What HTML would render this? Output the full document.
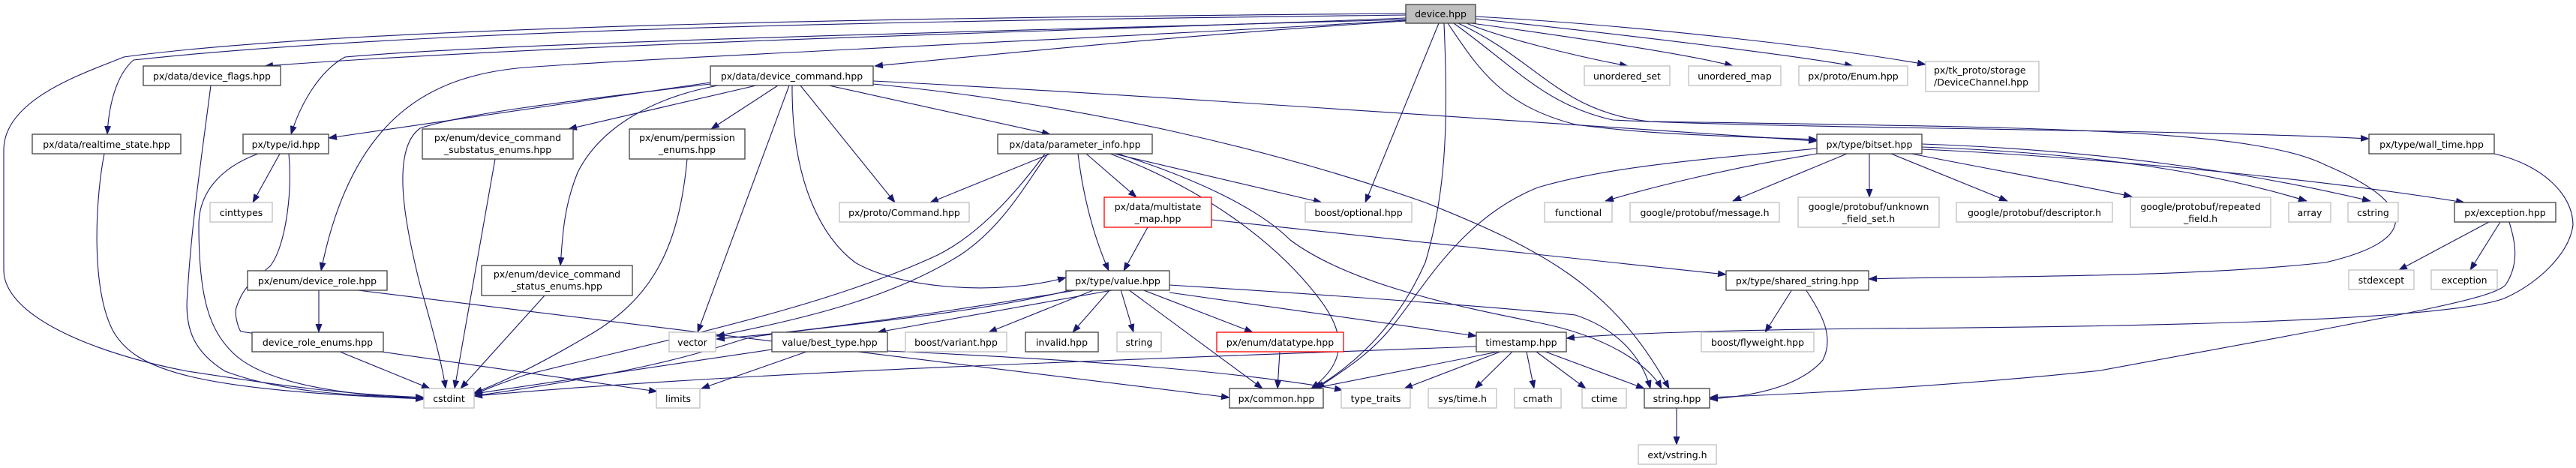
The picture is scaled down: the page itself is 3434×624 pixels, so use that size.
<!DOCTYPE html>
<html><head><meta charset="utf-8"><style>
html,body{margin:0;padding:0;background:#fff;}
svg{display:block;}
text{font-family:"DejaVu Sans","Liberation Sans",sans-serif;font-size:12.5px;fill:#000;}
.e{fill:none;stroke:#191970;stroke-width:1.1;marker-end:url(#a);}
.b{fill:#fff;stroke:#404040;stroke-width:1.3;}
.g{fill:#fff;stroke:#bfbfbf;stroke-width:1.3;}
.r{fill:#fff;stroke:#ff0000;stroke-width:1.3;}
</style></head><body>
<svg width="3434" height="624" viewBox="0 0 3434 624" xmlns="http://www.w3.org/2000/svg">
<defs><marker id="a" markerWidth="12" markerHeight="9" refX="11" refY="4.5" orient="auto" markerUnits="userSpaceOnUse"><path d="M0,0 L12,4.5 L0,9 Z" fill="#191970"/></marker></defs>

<!-- edges from device.hpp -->
<path class="e" d="M1874,18 C1400,22 500,30 165,76 C120,95 5,130 5,200 L5,360 C5,420 120,470 250,495 C380,515 450,525 565,530"/>
<path class="e" d="M1874,20 C1400,26 600,34 178,80 C155,100 145,140 143,179"/>
<path class="e" d="M1874,24 C1500,40 800,55 353,88"/>
<path class="e" d="M1874,26 C1400,40 700,55 460,76 C425,95 400,140 388,179"/>
<path class="e" d="M1874,27 C1500,50 900,75 700,90 C580,100 470,150 428,361"/>
<path class="e" d="M1874,28 C1600,45 1350,70 1166,88"/>
<path class="e" d="M1918,31 L1820,270"/>
<path class="e" d="M1925,31 C1930,150 1930,250 1900,350 C1860,440 1800,490 1752,518"/>
<path class="e" d="M1930,31 C1970,90 2000,140 2100,166 C2200,180 2320,182 2422,186"/>
<path class="e" d="M1938,31 C2020,90 2060,140 2150,160 C2400,172 2900,172 3158,185"/>
<path class="e" d="M1944,31 C2050,80 2080,150 2200,162 C2700,170 3000,170 3100,220 C3219,270 3230,320 3100,350 C2900,372 2600,368 2491,372"/>
<path class="e" d="M1955,31 C2000,50 2100,75 2170,88"/>
<path class="e" d="M1962,31 C2100,50 2250,72 2310,88"/>
<path class="e" d="M1967,25 C2200,50 2400,75 2470,88"/>
<path class="e" d="M1967,22 C2200,35 2450,65 2567,86"/>

<!-- device_command -->
<path class="e" d="M947,110 L438,184"/>
<path class="e" d="M947,112 C800,130 620,150 560,171 C520,200 540,300 560,380 C580,450 590,490 594,518"/>
<path class="e" d="M1008,114 L758,172"/>
<path class="e" d="M1037,114 L948,172"/>
<path class="e" d="M957,114 C870,130 800,170 770,230 C750,280 750,320 747,354"/>
<path class="e" d="M1052,114 L930,443"/>
<path class="e" d="M1067,114 L1193,270"/>
<path class="e" d="M1056,114 C1055,250 1100,320 1140,350 C1200,385 1330,395 1421,370"/>
<path class="e" d="M1105,114 L1400,179"/>
<path class="e" d="M1164,108 C1500,125 2000,160 2422,188"/>
<path class="e" d="M1164,112 C1450,140 1700,200 1900,270 C2050,330 2150,380 2225,518"/>

<!-- id.hpp -->
<path class="e" d="M373,205 L337,270"/>
<path class="e" d="M344,205 C290,225 265,260 265,300 C265,400 280,440 310,470 C360,520 500,528 565,532"/>
<path class="e" d="M385,205 C390,260 380,330 360,355 C340,372 325,380 315,410 C312,420 318,438 321,442 L876,522"/>

<!-- other left nodes -->
<path class="e" d="M281,114 C270,200 255,300 250,390 C245,440 260,470 300,495 C380,525 480,528 565,530"/>
<path class="e" d="M139,205 C128,260 120,380 150,440 C180,495 260,520 565,532"/>
<path class="e" d="M469,386 L1639,530"/>
<path class="e" d="M425,386 L425,443"/>
<path class="e" d="M453,469 L573,518"/>
<path class="e" d="M660,212 L606,518"/>
<path class="e" d="M726,394 L614,518"/>
<path class="e" d="M916,212 C905,330 870,400 780,450 C720,485 680,505 632,524"/>

<!-- parameter_info -->
<path class="e" d="M1400,205 L1240,270"/>
<path class="e" d="M1397,205 C1370,240 1340,300 1280,340 C1200,390 1100,420 955,448"/>
<path class="e" d="M1393,205 C1360,250 1310,310 1250,340 C1100,410 900,450 700,500 C670,510 650,518 632,526"/>
<path class="e" d="M1448,205 L1515,263"/>
<path class="e" d="M1437,205 C1445,270 1460,320 1478,361"/>
<path class="e" d="M1485,205 L1762,270"/>
<path class="e" d="M1480,205 C1600,250 1700,320 1760,400 C1790,440 1800,480 1748,518"/>
<path class="e" d="M1490,205 C1600,240 1680,280 1720,320 C1800,380 1950,410 2050,430 C2150,450 2200,490 2215,518"/>
<path class="e" d="M1615,293 L2301,366"/>
<path class="e" d="M1530,303 L1498,361"/>

<!-- value.hpp -->
<path class="e" d="M1440,386 C1300,410 1100,440 955,452"/>
<path class="e" d="M1430,386 C1300,420 1050,440 1000,450 C960,460 900,490 632,528"/>
<path class="e" d="M1488,386 L1170,443"/>
<path class="e" d="M1460,386 L1318,443"/>
<path class="e" d="M1480,386 L1430,443"/>
<path class="e" d="M1494,386 L1511,443"/>
<path class="e" d="M1504,386 L1683,518"/>
<path class="e" d="M1522,386 L1670,443"/>
<path class="e" d="M1559,390 L1968,448"/>
<path class="e" d="M1559,380 C1800,395 2000,410 2100,420 C2160,440 2190,480 2200,518"/>

<!-- best_type -->
<path class="e" d="M1029,466 L632,525"/>
<path class="e" d="M1075,469 L935,518"/>
<path class="e" d="M1183,468 C1450,480 1650,495 1790,520"/>

<!-- datatype / timestamp -->
<path class="e" d="M1706,469 L1703,518"/>
<path class="e" d="M1968,462 C1500,480 1000,495 632,528"/>
<path class="e" d="M1997,469 L1750,518"/>
<path class="e" d="M2000,469 L1872,518"/>
<path class="e" d="M2016,469 L1966,518"/>
<path class="e" d="M2035,469 L2045,518"/>
<path class="e" d="M2048,469 L2114,518"/>
<path class="e" d="M2060,469 L2192,518"/>

<!-- bitset -->
<path class="e" d="M2422,198 C2300,210 2150,220 2050,250 C1950,290 1900,380 1860,430 C1830,470 1790,495 1755,518"/>
<path class="e" d="M2422,205 C2300,225 2200,250 2140,268"/>
<path class="e" d="M2462,205 L2310,268"/>
<path class="e" d="M2492,205 L2492,263"/>
<path class="e" d="M2521,205 L2676,268"/>
<path class="e" d="M2548,205 C2650,225 2760,245 2842,262"/>
<path class="e" d="M2562,196 C2800,205 2950,230 3075,268"/>
<path class="e" d="M2562,192 C2800,200 3000,230 3160,268"/>
<path class="e" d="M2562,199 C2800,210 3100,240 3285,270"/>

<!-- wall_time, exception, shared_string, string -->
<path class="e" d="M3325,205 C3390,220 3430,260 3430,300 C3425,340 3380,380 3338,398 C3250,430 2800,436 2500,438 C2300,440 2150,445 2088,451"/>
<path class="e" d="M3345,296 C3352,320 3360,350 3340,380 C3320,400 3200,420 2800,494 C2600,515 2400,525 2279,530"/>
<path class="e" d="M3318,296 L3198,360"/>
<path class="e" d="M3333,296 L3293,360"/>
<path class="e" d="M2389,386 L2353,443"/>
<path class="e" d="M2407,386 C2430,420 2445,450 2430,480 C2400,515 2340,528 2279,532"/>
<path class="e" d="M2235,543 L2235,593"/>

<!-- nodes -->
<rect x="1874" y="6" width="93" height="25" fill="#bfbfbf" stroke="#404040" stroke-width="1.3"/><text x="1920.5" y="23" text-anchor="middle">device.hpp</text>

<rect class="b" x="191" y="88" width="183" height="26"/><text x="282.5" y="106" text-anchor="middle">px/data/device_flags.hpp</text>
<rect class="b" x="947" y="88" width="217" height="26"/><text x="1055.5" y="106" text-anchor="middle">px/data/device_command.hpp</text>
<rect class="g" x="2112" y="88" width="114" height="26"/><text x="2169" y="106" text-anchor="middle">unordered_set</text>
<rect class="g" x="2251" y="88" width="123" height="26"/><text x="2312.5" y="106" text-anchor="middle">unordered_map</text>
<rect class="g" x="2398" y="88" width="145" height="26"/><text x="2470.5" y="106" text-anchor="middle">px/proto/Enum.hpp</text>
<rect class="g" x="2567" y="82" width="151" height="40"/><text x="2578" y="98">px/tk_proto/storage</text><text x="2578" y="114">/DeviceChannel.hpp</text>

<rect class="b" x="43" y="179" width="198" height="26"/><text x="142" y="197" text-anchor="middle">px/data/realtime_state.hpp</text>
<rect class="b" x="324" y="179" width="114" height="26"/><text x="381" y="197" text-anchor="middle">px/type/id.hpp</text>
<rect class="b" x="563" y="172" width="201" height="40"/><text x="663.5" y="188" text-anchor="middle">px/enum/device_command</text><text x="663.5" y="204" text-anchor="middle">_substatus_enums.hpp</text>
<rect class="b" x="839" y="172" width="154" height="40"/><text x="916" y="188" text-anchor="middle">px/enum/permission</text><text x="916" y="204" text-anchor="middle">_enums.hpp</text>
<rect class="b" x="1330" y="179" width="206" height="26"/><text x="1433" y="197" text-anchor="middle">px/data/parameter_info.hpp</text>
<rect class="b" x="2422" y="179" width="140" height="26"/><text x="2492" y="197" text-anchor="middle">px/type/bitset.hpp</text>
<rect class="b" x="3158" y="179" width="167" height="26"/><text x="3241.5" y="197" text-anchor="middle">px/type/wall_time.hpp</text>

<rect class="g" x="280" y="270" width="83" height="26"/><text x="321.5" y="288" text-anchor="middle">cinttypes</text>
<rect class="g" x="1119" y="270" width="173" height="26"/><text x="1205.5" y="288" text-anchor="middle">px/proto/Command.hpp</text>
<rect class="r" x="1472" y="263" width="143" height="40"/><text x="1543.5" y="280" text-anchor="middle">px/data/multistate</text><text x="1543.5" y="296" text-anchor="middle">_map.hpp</text>
<rect class="g" x="1740" y="270" width="142" height="26"/><text x="1811" y="288" text-anchor="middle">boost/optional.hpp</text>
<rect class="g" x="2059" y="270" width="90" height="26"/><text x="2104" y="288" text-anchor="middle">functional</text>
<rect class="g" x="2173" y="270" width="199" height="26"/><text x="2272.5" y="288" text-anchor="middle">google/protobuf/message.h</text>
<rect class="g" x="2397" y="263" width="188" height="40"/><text x="2491" y="280" text-anchor="middle">google/protobuf/unknown</text><text x="2491" y="296" text-anchor="middle">_field_set.h</text>
<rect class="g" x="2608" y="270" width="208" height="26"/><text x="2712" y="288" text-anchor="middle">google/protobuf/descriptor.h</text>
<rect class="g" x="2840" y="263" width="187" height="40"/><text x="2933.5" y="280" text-anchor="middle">google/protobuf/repeated</text><text x="2933.5" y="296" text-anchor="middle">_field.h</text>
<rect class="g" x="3051" y="270" width="56" height="26"/><text x="3079" y="288" text-anchor="middle">array</text>
<rect class="g" x="3130" y="270" width="67" height="26"/><text x="3163.5" y="288" text-anchor="middle">cstring</text>
<rect class="b" x="3272" y="270" width="135" height="26"/><text x="3339.5" y="288" text-anchor="middle">px/exception.hpp</text>

<rect class="b" x="330" y="361" width="186" height="26"/><text x="423" y="379" text-anchor="middle">px/enum/device_role.hpp</text>
<rect class="b" x="642" y="354" width="201" height="40"/><text x="742.5" y="370" text-anchor="middle">px/enum/device_command</text><text x="742.5" y="386" text-anchor="middle">_status_enums.hpp</text>
<rect class="b" x="1421" y="361" width="138" height="26"/><text x="1490" y="379" text-anchor="middle">px/type/value.hpp</text>
<rect class="b" x="2301" y="361" width="190" height="26"/><text x="2396" y="379" text-anchor="middle">px/type/shared_string.hpp</text>
<rect class="g" x="3131" y="360" width="87" height="26"/><text x="3174.5" y="378" text-anchor="middle">stdexcept</text>
<rect class="g" x="3241" y="360" width="88" height="26"/><text x="3285" y="378" text-anchor="middle">exception</text>

<rect class="b" x="336" y="443" width="175" height="26"/><text x="423.5" y="461" text-anchor="middle">device_role_enums.hpp</text>
<rect class="g" x="892" y="443" width="62" height="26"/><text x="923" y="461" text-anchor="middle">vector</text>
<rect class="b" x="1029" y="443" width="154" height="26"/><text x="1106" y="461" text-anchor="middle">value/best_type.hpp</text>
<rect class="g" x="1207" y="443" width="135" height="26"/><text x="1274.5" y="461" text-anchor="middle">boost/variant.hpp</text>
<rect class="b" x="1367" y="443" width="97" height="26"/><text x="1415.5" y="461" text-anchor="middle">invalid.hpp</text>
<rect class="g" x="1489" y="443" width="59" height="26"/><text x="1518.5" y="461" text-anchor="middle">string</text>
<rect class="r" x="1622" y="443" width="169" height="26"/><text x="1706.5" y="461" text-anchor="middle">px/enum/datatype.hpp</text>
<rect class="b" x="1968" y="443" width="120" height="26"/><text x="2028" y="461" text-anchor="middle">timestamp.hpp</text>
<rect class="g" x="2268" y="443" width="150" height="26"/><text x="2343" y="461" text-anchor="middle">boost/flyweight.hpp</text>

<rect class="g" x="565" y="518" width="67" height="26"/><text x="598.5" y="536" text-anchor="middle">cstdint</text>
<rect class="g" x="875" y="518" width="58" height="26"/><text x="904" y="536" text-anchor="middle">limits</text>
<rect class="b" x="1639" y="518" width="125" height="26"/><text x="1701.5" y="536" text-anchor="middle">px/common.hpp</text>
<rect class="g" x="1788" y="518" width="92" height="26"/><text x="1834" y="536" text-anchor="middle">type_traits</text>
<rect class="g" x="1904" y="518" width="91" height="26"/><text x="1949.5" y="536" text-anchor="middle">sys/time.h</text>
<rect class="g" x="2019" y="518" width="62" height="26"/><text x="2050" y="536" text-anchor="middle">cmath</text>
<rect class="g" x="2109" y="518" width="59" height="26"/><text x="2138.5" y="536" text-anchor="middle">ctime</text>
<rect class="b" x="2192" y="518" width="87" height="26"/><text x="2235.5" y="536" text-anchor="middle">string.hpp</text>

<rect class="g" x="2184" y="593" width="104" height="26"/><text x="2236" y="611" text-anchor="middle">ext/vstring.h</text>
</svg>
</body></html>
